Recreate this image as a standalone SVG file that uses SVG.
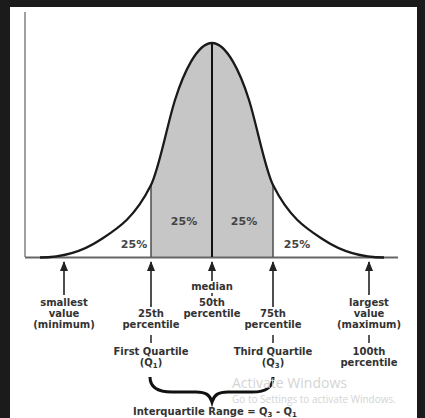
<svg xmlns="http://www.w3.org/2000/svg" width="425" height="418" viewBox="0 0 425 418">
  <defs>
    <marker id="ah" viewBox="0 0 10 8" refX="9" refY="4" markerUnits="userSpaceOnUse" markerWidth="10" markerHeight="8" orient="auto">
      <path d="M0,0 L10,4 L0,8 Z" fill="#222"/>
    </marker>
    <style>
      .lbl { font-family: "DejaVu Sans", "Liberation Sans", sans-serif; font-size: 10px; font-weight: bold; fill: #333; text-anchor: middle; }
      .pct { font-family: "DejaVu Sans", "Liberation Sans", sans-serif; font-size: 11px; font-weight: bold; fill: #444; text-anchor: middle; }
      .arrow { stroke: #222; stroke-width: 1.6; fill: none; marker-end: url(#ah); }
      .tick { stroke: #333; stroke-width: 1.6; }
      .wm { font-family: "Open Sans", "DejaVu Sans", sans-serif; fill: #d4d4d4; }
    </style>
  </defs>

  <!-- frame -->
  <rect x="0" y="0" width="425" height="418" fill="#1b1b1b"/>
  <rect x="10" y="7" width="407" height="411" fill="#ffffff"/>

  <!-- distribution -->
  <g id="distribution">
    <path d="M151,257 L151,185 C159,169 167,125.6 175,100 C183,74.4 197,43 212,43 C227,43 241,74.4 249,100 C257,125.6 265,169 273,185 L273,257 Z" fill="#c6c6c6"/>
    <line x1="25" y1="12" x2="25" y2="257" stroke="#888" stroke-width="1.6"/>
    <line x1="25" y1="257.5" x2="398" y2="257.5" stroke="#666" stroke-width="2"/>
    <line x1="151" y1="185" x2="151" y2="257" stroke="#555" stroke-width="1.6"/>
    <line x1="273" y1="185" x2="273" y2="257" stroke="#555" stroke-width="1.6"/>
    <line x1="212" y1="43" x2="212" y2="257" stroke="#111" stroke-width="2"/>
    <path d="M40,257.5 C60,257.5 80,253.2 100,240 C117,228.8 134,219 151,185 C159,169 167,125.6 175,100 C183,74.4 197,43 212,43 C227,43 241,74.4 249,100 C257,125.6 265,169 273,185 C290,219 307,228.8 324,240 C344,253.2 364,257.5 384,257.5" fill="none" stroke="#1a1a1a" stroke-width="2.3"/>
    <text class="pct" x="134" y="248">25%</text>
    <text class="pct" x="184" y="225">25%</text>
    <text class="pct" x="244" y="225">25%</text>
    <text class="pct" x="297" y="248">25%</text>
  </g>

  <!-- connectors (arrows) -->
  <g id="connectors">
    <line class="arrow" x1="64" y1="295" x2="64" y2="262"/>
    <line class="arrow" x1="151" y1="307" x2="151" y2="262"/>
    <line class="arrow" x1="212" y1="281" x2="212" y2="262"/>
    <line class="arrow" x1="273" y1="307" x2="273" y2="262"/>
    <line class="arrow" x1="369" y1="295" x2="369" y2="262"/>
    <line class="tick" x1="151" y1="335" x2="151" y2="343"/>
    <line class="tick" x1="273" y1="335" x2="273" y2="343"/>
    <line class="tick" x1="369" y1="335" x2="369" y2="343"/>
    <line class="tick" x1="212" y1="293" x2="212" y2="296"/>
  </g>

  <g id="minimum">
    <text class="lbl" x="64" y="306">smallest</text>
    <text class="lbl" x="64" y="317">value</text>
    <text class="lbl" x="64" y="328">(minimum)</text>
  </g>

  <g id="q1">
    <text class="lbl" x="151" y="317">25th</text>
    <text class="lbl" x="151" y="328">percentile</text>
    <text class="lbl" x="151" y="355">First Quartile</text>
    <text class="lbl" x="151" y="366">(Q<tspan font-size="7" dy="2">1</tspan><tspan dy="-2">)</tspan></text>
  </g>

  <g id="median">
    <text class="lbl" x="212" y="290">median</text>
    <text class="lbl" x="212" y="306">50th</text>
    <text class="lbl" x="212" y="317">percentile</text>
  </g>

  <g id="q3">
    <text class="lbl" x="273" y="317">75th</text>
    <text class="lbl" x="273" y="328">percentile</text>
    <text class="lbl" x="273" y="355">Third Quartile</text>
    <text class="lbl" x="273" y="366">(Q<tspan font-size="7" dy="2">3</tspan><tspan dy="-2">)</tspan></text>
  </g>

  <g id="maximum">
    <text class="lbl" x="369" y="306">largest</text>
    <text class="lbl" x="369" y="317">value</text>
    <text class="lbl" x="369" y="328">(maximum)</text>
    <text class="lbl" x="369" y="355">100th</text>
    <text class="lbl" x="369" y="366">percentile</text>
  </g>

  <g id="iqr">
    <path d="M150,377 C150,388 158,392 172,392 L196,392 C206,392 210,395 212,402 C214,395 218,392 228,392 L252,392 C266,392 273,388 273,377" fill="none" stroke="#111" stroke-width="3"/>
    <text class="lbl" x="215" y="415">Interquartile Range = Q<tspan font-size="7" dy="2">3</tspan><tspan dy="-2"> - Q</tspan><tspan font-size="7" dy="2">1</tspan></text>
  </g>

  <g id="watermark">
    <text class="wm" x="232" y="388" font-size="14">Activate Windows</text>
    <text class="wm" x="232" y="403" font-size="10">Go to Settings to activate Windows.</text>
  </g>
</svg>
